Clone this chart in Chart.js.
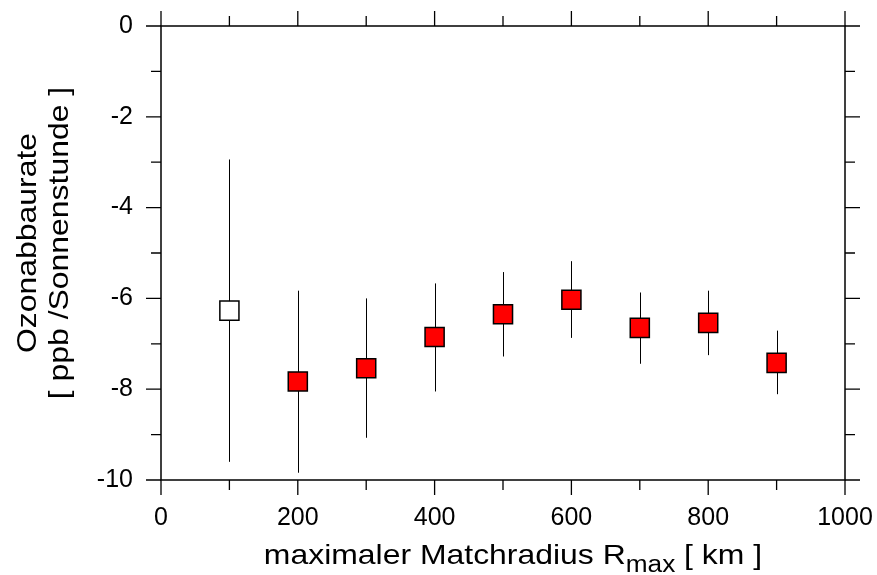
<!DOCTYPE html>
<html lang="de">
<head>
    <meta charset="UTF-8">
    <title>Ozonabbaurate vs. Matchradius</title>
    <script src="https://cdn.jsdelivr.net/npm/chart.js"></script>
    <style>
        body { margin: 0; background: #fff; }
    </style>
</head>
<body>
    <canvas id="ozonChart" width="877" height="575"></canvas>

    <script>
        // values
        const radius  = [100, 200, 300, 400, 500, 600, 700, 800, 900];
        const rate    = [-6.27, -7.83, -7.54, -6.85, -6.35, -6.03, -6.65, -6.54, -7.42];
        const errTop  = [-2.94, -5.83, -6.00, -5.67, -5.42, -5.18, -5.87, -5.83, -6.71];
        const errBot  = [-9.60, -9.84, -9.07, -8.05, -7.28, -6.87, -7.44, -7.25, -8.11];
        const openPoint = [true, false, false, false, false, false, false, false, false];

        const xTicks = [0, 100, 200, 300, 400, 500, 600, 700, 800, 900, 1000];
        const yTicks = [0, -1, -2, -3, -4, -5, -6, -7, -8, -9, -10];

        const fontName = '"Liberation Sans", Arial, sans-serif';
        const titleStretch = 1.14; // the original titles are set a bit wide

        // vertical error bars, drawn under the squares
        const errorBars = {
            id: 'errorBars',
            beforeDatasetsDraw(chart) {
                const { ctx, scales: { x, y } } = chart;
                ctx.save();
                ctx.strokeStyle = '#000';
                ctx.lineWidth = 1;
                radius.forEach((r, i) => {
                    const px = Math.round(x.getPixelForValue(r)) + 0.5;
                    ctx.beginPath();
                    ctx.moveTo(px, y.getPixelForValue(errTop[i]));
                    ctx.lineTo(px, y.getPixelForValue(errBot[i]));
                    ctx.stroke();
                });
                ctx.restore();
            }
        };

        // box frame with outward ticks on all four sides, plus axis titles
        const frame = {
            id: 'frame',
            afterDraw(chart) {
                const { ctx, chartArea: a, scales: { x, y } } = chart;
                ctx.save();
                ctx.strokeStyle = '#000';
                ctx.lineWidth = 1.5;
                ctx.strokeRect(a.left, a.top, a.right - a.left, a.bottom - a.top);

                ctx.lineWidth = 1.3;
                ctx.beginPath();
                xTicks.forEach(v => {
                    const px = x.getPixelForValue(v);
                    const len = v % 200 === 0 ? 15 : 10;
                    ctx.moveTo(px, a.bottom); ctx.lineTo(px, a.bottom + len);
                    ctx.moveTo(px, a.top); ctx.lineTo(px, a.top - len);
                });
                yTicks.forEach(v => {
                    const py = y.getPixelForValue(v);
                    const len = v % 2 === 0 ? 15 : 10;
                    ctx.moveTo(a.left, py); ctx.lineTo(a.left - len, py);
                    ctx.moveTo(a.right, py); ctx.lineTo(a.right + len, py);
                });
                ctx.stroke();
                ctx.restore();

                // x title with subscript
                ctx.save();
                ctx.fillStyle = '#000';
                ctx.textBaseline = 'alphabetic';
                const main = '28px ' + fontName, sub = '23px ' + fontName;
                const t1 = 'maximaler Matchradius R', t2 = 'max', t3 = ' [ km ]';
                ctx.font = main; const w1 = ctx.measureText(t1).width, w3 = ctx.measureText(t3).width;
                ctx.font = sub; const w2 = ctx.measureText(t2).width;
                ctx.translate(513, 0);
                ctx.scale(titleStretch, 1);
                let sx = -(w1 + w2 + w3) / 2;
                const base = 564;
                ctx.font = main; ctx.fillText(t1, sx, base); sx += w1;
                ctx.font = sub; ctx.fillText(t2, sx, base + 8); sx += w2;
                ctx.font = main; ctx.fillText(t3, sx, base);
                ctx.restore();

                // y title, two rotated lines
                ctx.save();
                ctx.fillStyle = '#000';
                ctx.font = main;
                ctx.textAlign = 'center';
                ctx.translate(0, 243);
                ctx.rotate(-Math.PI / 2);
                ctx.scale(titleStretch, 1);
                ctx.fillText('Ozonabbaurate', 0, 36);
                ctx.fillText('[ ppb /Sonnenstunde ]', 0, 68);
                ctx.restore();
            }
        };

        const ctx = document.getElementById('ozonChart').getContext('2d');
        new Chart(ctx, {
            type: 'scatter',
            data: {
                datasets: [{
                    data: radius.map((r, i) => ({ x: r, y: rate[i] })),
                    pointStyle: 'rect',
                    pointRadius: 13.5,
                    pointHoverRadius: 13.5,
                    borderWidth: 1.5,
                    borderColor: '#000',
                    backgroundColor: openPoint.map(o => o ? '#ffffff' : '#ff0000')
                }]
            },
            options: {
                responsive: false,
                animation: false,
                layout: { padding: { top: 26, right: 32, left: 0, bottom: 0 } },
                plugins: {
                    legend: { display: false },
                    tooltip: { enabled: false }
                },
                scales: {
                    x: {
                        type: 'linear',
                        min: 0, max: 1000,
                        grid: { display: false },
                        border: { display: false },
                        ticks: {
                            stepSize: 200,
                            padding: 15,
                            color: '#000',
                            font: { family: fontName, size: 25 },
                            callback: v => String(v)
                        },
                        afterFit(scale) {
                            scale.height = 95;
                            scale.paddingLeft = 0;
                            scale.paddingRight = 0;
                        }
                    },
                    y: {
                        min: -10, max: 0,
                        grid: { display: false },
                        border: { display: false },
                        ticks: {
                            stepSize: 2,
                            padding: 20,
                            color: '#000',
                            font: { family: fontName, size: 25 },
                            callback: v => String(v)
                        },
                        afterFit(scale) {
                            scale.width = 161;
                            scale.paddingTop = 0;
                            scale.paddingBottom = 0;
                        }
                    }
                }
            },
            plugins: [errorBars, frame]
        });
    </script>
</body>
</html>
